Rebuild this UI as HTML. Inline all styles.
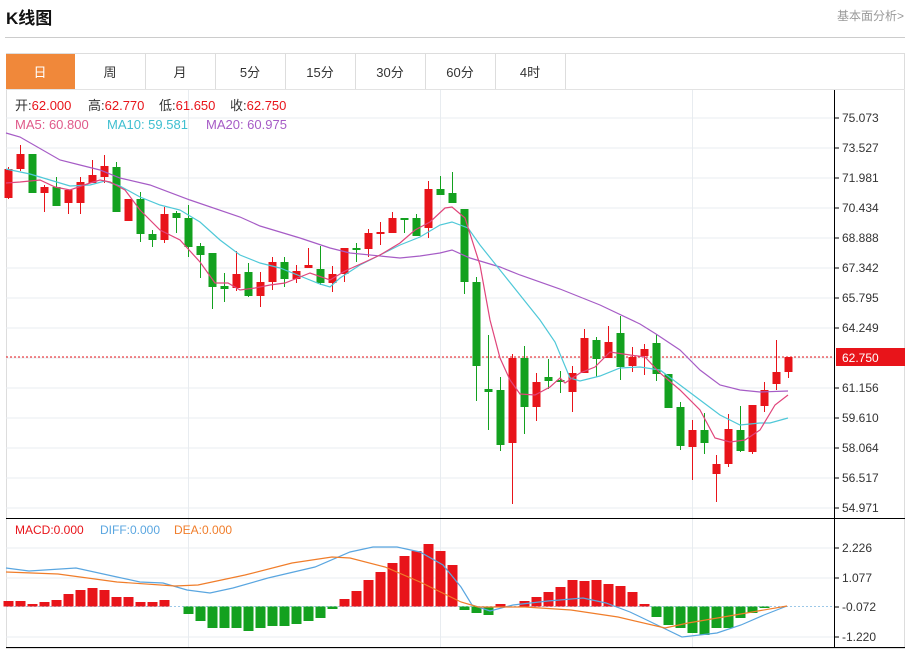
<!DOCTYPE html>
<html><head><meta charset="utf-8"><style>
html,body{margin:0;padding:0;background:#fff;width:911px;height:649px;overflow:hidden;font-family:"Liberation Sans","Noto Sans CJK SC",sans-serif;}
svg{display:block}
</style></head><body>
<svg width="911" height="649" xmlns="http://www.w3.org/2000/svg" font-family="Liberation Sans, Noto Sans CJK SC, sans-serif">
<text x="6" y="24" font-size="17" font-weight="bold" fill="#111">K线图</text>
<text x="904" y="20" font-size="12" fill="#999" text-anchor="end">基本面分析&gt;</text>
<line x1="5" y1="37.5" x2="905" y2="37.5" stroke="#ccc"/>
<rect x="6.5" y="53.5" width="898" height="595" fill="none" stroke="#ddd"/>
<line x1="6" y1="89.5" x2="905" y2="89.5" stroke="#e3e3e3"/>
<rect x="6" y="54" width="69" height="35" fill="#f0883a"/>
<g stroke="#ddd"><line x1="145.5" y1="54" x2="145.5" y2="89"/><line x1="215.5" y1="54" x2="215.5" y2="89"/><line x1="285.5" y1="54" x2="285.5" y2="89"/><line x1="355.5" y1="54" x2="355.5" y2="89"/><line x1="425.5" y1="54" x2="425.5" y2="89"/><line x1="495.5" y1="54" x2="495.5" y2="89"/><line x1="565.5" y1="54" x2="565.5" y2="89"/></g>
<g font-size="13" fill="#333" text-anchor="middle"><text x="40" y="77" fill="#fff">日</text><text x="110" y="77">周</text><text x="180" y="77">月</text><text x="250" y="77">5分</text><text x="320" y="77">15分</text><text x="390" y="77">30分</text><text x="460" y="77">60分</text><text x="530" y="77">4时</text></g>
<g stroke="#e8ecf0"><line x1="6" x2="834" y1="118" y2="118"/><line x1="6" x2="834" y1="148" y2="148"/><line x1="6" x2="834" y1="178" y2="178"/><line x1="6" x2="834" y1="208" y2="208"/><line x1="6" x2="834" y1="238" y2="238"/><line x1="6" x2="834" y1="268" y2="268"/><line x1="6" x2="834" y1="298" y2="298"/><line x1="6" x2="834" y1="328" y2="328"/><line x1="6" x2="834" y1="358" y2="358"/><line x1="6" x2="834" y1="388" y2="388"/><line x1="6" x2="834" y1="418" y2="418"/><line x1="6" x2="834" y1="448" y2="448"/><line x1="6" x2="834" y1="478" y2="478"/><line x1="6" x2="834" y1="508" y2="508"/>
<line x1="188.5" x2="188.5" y1="90" y2="648"/><line x1="440.5" x2="440.5" y1="90" y2="648"/><line x1="692.5" x2="692.5" y1="90" y2="648"/>
<line x1="6" x2="834" y1="548" y2="548"/><line x1="6" x2="834" y1="578" y2="578"/><line x1="6" x2="834" y1="637" y2="637"/></g>
<g font-size="13">
<text x="15" y="110" fill="#333">开:<tspan fill="#e8141a">62.000</tspan></text>
<text x="88" y="110" fill="#333">高:<tspan fill="#e8141a">62.770</tspan></text>
<text x="159" y="110" fill="#333">低:<tspan fill="#e8141a">61.650</tspan></text>
<text x="230" y="110" fill="#333">收:<tspan fill="#e8141a">62.750</tspan></text>
<text x="15" y="129" fill="#e05a8a">MA5: 60.800</text>
<text x="107" y="129" fill="#3fbfd0">MA10: 59.581</text>
<text x="206" y="129" fill="#a65cc6">MA20: 60.975</text>
</g>
<line x1="834.5" y1="90" x2="834.5" y2="648" stroke="#000"/>
<line x1="6" y1="518.5" x2="905" y2="518.5" stroke="#000"/>
<line x1="6" y1="647.5" x2="905" y2="647.5" stroke="#000"/>
<g stroke="#000"><line x1="834" x2="839" y1="118" y2="118"/><line x1="834" x2="839" y1="148" y2="148"/><line x1="834" x2="839" y1="178" y2="178"/><line x1="834" x2="839" y1="208" y2="208"/><line x1="834" x2="839" y1="238" y2="238"/><line x1="834" x2="839" y1="268" y2="268"/><line x1="834" x2="839" y1="298" y2="298"/><line x1="834" x2="839" y1="328" y2="328"/><line x1="834" x2="839" y1="388" y2="388"/><line x1="834" x2="839" y1="418" y2="418"/><line x1="834" x2="839" y1="448" y2="448"/><line x1="834" x2="839" y1="478" y2="478"/><line x1="834" x2="839" y1="508" y2="508"/><line x1="834" x2="839" y1="548" y2="548"/><line x1="834" x2="839" y1="578" y2="578"/><line x1="834" x2="839" y1="607" y2="607"/><line x1="834" x2="839" y1="637" y2="637"/></g>
<g font-size="12" fill="#333"><text x="842" y="122">75.073</text><text x="842" y="152">73.527</text><text x="842" y="182">71.981</text><text x="842" y="212">70.434</text><text x="842" y="242">68.888</text><text x="842" y="272">67.342</text><text x="842" y="302">65.795</text><text x="842" y="332">64.249</text><text x="842" y="392">61.156</text><text x="842" y="422">59.610</text><text x="842" y="452">58.064</text><text x="842" y="482">56.517</text><text x="842" y="512">54.971</text>
<text x="842" y="552">2.226</text><text x="842" y="582">1.077</text><text x="842" y="611">-0.072</text><text x="842" y="641">-1.220</text></g>
<line x1="6" y1="357" x2="834" y2="357" stroke="#e8141a" stroke-dasharray="2,2"/>
<rect x="836" y="348" width="69" height="18" fill="#e8141a"/>
<text x="842" y="362" font-size="12" fill="#fff">62.750</text>
<!-- red candles -->
<path fill="none" stroke="#e8141a" d="M8.5 167V199M20.5 145V171M44.5 185V212M68.5 190V214M80.5 177V214M92.5 160V183M104.5 155V183M128.5 199V221M164.5 207V243M236.5 251V291M260.5 272V307M272.5 257V290M296.5 265V283M308.5 248V268M332.5 266V292M344.5 248V282M368.5 229V257M380.5 222V245M392.5 212V233M428.5 181V238M512.5 354V504M536.5 373V421M572.5 366V412M584.5 329V373M608.5 326V358M632.5 347V372M644.5 344V375M692.5 420V480M716.5 455V502M728.5 414V467M752.5 405V454M764.5 382V412M776.5 340V390M788.5 357V378"/>
<g fill="#e8141a">
<rect x="4.5" y="169" width="8" height="29"/><rect x="16.5" y="154" width="8" height="15"/><rect x="40.5" y="187" width="8" height="6"/><rect x="64.5" y="190" width="8" height="13"/><rect x="76.5" y="182" width="8" height="21"/><rect x="88.5" y="175" width="8" height="8"/><rect x="100.5" y="166" width="8" height="11"/><rect x="124.5" y="199" width="8" height="22"/><rect x="160.5" y="214" width="8" height="26"/><rect x="232.5" y="274" width="8" height="14"/><rect x="256.5" y="282" width="8" height="14"/><rect x="268.5" y="262" width="8" height="20"/><rect x="292.5" y="271" width="8" height="8"/><rect x="304.5" y="265" width="8" height="3"/><rect x="328.5" y="274" width="8" height="9"/><rect x="340.5" y="248" width="8" height="26"/><rect x="364.5" y="233" width="8" height="16"/><rect x="376.5" y="232" width="8" height="2"/><rect x="388.5" y="218" width="8" height="15"/><rect x="424.5" y="189" width="8" height="39"/><rect x="508.5" y="358" width="8" height="85"/><rect x="532.5" y="382" width="8" height="25"/><rect x="568.5" y="373" width="8" height="19"/><rect x="580.5" y="338" width="8" height="35"/><rect x="604.5" y="342" width="8" height="16"/><rect x="628.5" y="357" width="8" height="9"/><rect x="640.5" y="349" width="8" height="7"/><rect x="688.5" y="430" width="8" height="17"/><rect x="712.5" y="464" width="8" height="10"/><rect x="724.5" y="429" width="8" height="35"/><rect x="748.5" y="405" width="8" height="47"/><rect x="760.5" y="390" width="8" height="16"/><rect x="772.5" y="372" width="8" height="12"/><rect x="784.5" y="357" width="8" height="15"/>
</g>
<!-- green candles -->
<path fill="none" stroke="#13a11f" d="M32.5 154V193M56.5 177V206M116.5 162V212M140.5 192V242M152.5 230V247M176.5 211V233M188.5 205V257M200.5 243V278M212.5 253V309M224.5 273V302M248.5 263V297M284.5 257V287M320.5 246V285M356.5 243V262M404.5 218V233M416.5 214V236M440.5 176V195M452.5 172V203M464.5 209V294M476.5 277V401M488.5 335V430M500.5 377V451M524.5 346V434M548.5 359V389M560.5 371V393M596.5 337V377M620.5 316V380M656.5 334V381M680.5 402V450M704.5 413V454M740.5 406V452"/>
<g fill="#13a11f">
<rect x="28.5" y="154" width="8" height="39"/><rect x="52.5" y="187" width="8" height="19"/><rect x="112.5" y="167" width="8" height="45"/><rect x="136.5" y="199" width="8" height="35"/><rect x="148.5" y="234" width="8" height="6"/><rect x="172.5" y="213" width="8" height="5"/><rect x="184.5" y="218" width="8" height="29"/><rect x="196.5" y="246" width="8" height="9"/><rect x="208.5" y="253" width="8" height="34"/><rect x="220.5" y="286" width="8" height="3"/><rect x="244.5" y="272" width="8" height="24"/><rect x="280.5" y="262" width="8" height="17"/><rect x="316.5" y="269" width="8" height="14"/><rect x="352.5" y="248" width="8" height="2"/><rect x="400.5" y="218" width="8" height="2"/><rect x="412.5" y="218" width="8" height="18"/><rect x="436.5" y="189" width="8" height="6"/><rect x="448.5" y="193" width="8" height="10"/><rect x="460.5" y="209" width="8" height="73"/><rect x="472.5" y="282" width="8" height="84"/><rect x="484.5" y="389" width="8" height="3"/><rect x="496.5" y="390" width="8" height="55"/><rect x="520.5" y="358" width="8" height="49"/><rect x="544.5" y="377" width="8" height="4"/><rect x="556.5" y="380" width="8" height="2"/><rect x="592.5" y="340" width="8" height="19"/><rect x="616.5" y="333" width="8" height="34"/><rect x="652.5" y="343" width="8" height="31"/><rect x="664.5" y="374" width="8" height="34"/><rect x="676.5" y="407" width="8" height="39"/><rect x="700.5" y="430" width="8" height="13"/><rect x="736.5" y="430" width="8" height="21"/>
</g>
<g fill="none" stroke-width="1.2">
<polyline stroke="#a65cc6" points="6,133 20,137 60,160 80,165 100,170 120,178 150,185 190,200 240,217 260,226 300,238 330,248 350,253 400,258 420,256 440,253 452,250 470,258 500,267 520,275 560,289 600,305 640,324 656,334 680,350 700,370 720,385 740,390 760,392 788,391"/>
<polyline stroke="#4fc8d8" points="6,169 30,174 50,180 70,186 90,185 105,181 120,186 140,197 160,205 180,210 200,222 220,240 240,255 260,263 280,268 300,276 320,284 330,287 340,278 360,265 380,255 400,245 420,237 440,225 452,222 468,228 480,245 500,270 520,295 540,320 555,342 570,378 580,381 600,376 620,368 640,367 660,370 680,385 700,400 720,415 740,425 760,423 770,423 788,418"/>
<polyline stroke="#e0457b" points="6,183 20,182 40,180 55,187 70,190 90,183 100,180 110,182 125,190 140,210 160,230 180,240 200,262 215,283 228,283 240,290 255,288 270,285 285,283 300,277 310,273 330,280 345,271 365,262 380,255 400,243 415,230 430,222 445,208 452,207 465,218 480,265 490,320 500,358 510,380 520,394 535,395 550,387 560,378 565,383 580,373 595,367 610,352 630,355 645,357 660,373 680,390 700,410 715,438 730,442 745,440 760,430 775,405 788,395"/>
</g>
<g font-size="12">
<text x="15" y="534" fill="#e8141a">MACD:0.000</text>
<text x="100" y="534" fill="#5aa6e0">DIFF:0.000</text>
<text x="174" y="534" fill="#f07d2a">DEA:0.000</text>
</g>
<line x1="6" y1="606.5" x2="834" y2="606.5" stroke="#9cc8e8" stroke-dasharray="2,2"/>
<g fill="#e8141a">
<rect x="3.5" y="601" width="10" height="5.5"/><rect x="15.5" y="601" width="10" height="5.5"/><rect x="27.5" y="604" width="10" height="2.5"/><rect x="39.5" y="602" width="10" height="4.5"/><rect x="51.5" y="600" width="10" height="6.5"/><rect x="63.5" y="594" width="10" height="12.5"/><rect x="75.5" y="590" width="10" height="16.5"/><rect x="87.5" y="588" width="10" height="18.5"/><rect x="99.5" y="590" width="10" height="16.5"/><rect x="111.5" y="597" width="10" height="9.5"/><rect x="123.5" y="597" width="10" height="9.5"/><rect x="135.5" y="602" width="10" height="4.5"/><rect x="147.5" y="602" width="10" height="4.5"/><rect x="159.5" y="600" width="10" height="6.5"/>
<rect x="339.5" y="599" width="10" height="7.5"/><rect x="351.5" y="591" width="10" height="15.5"/><rect x="363.5" y="580" width="10" height="26.5"/><rect x="375.5" y="572" width="10" height="34.5"/><rect x="387.5" y="563" width="10" height="43.5"/><rect x="399.5" y="556" width="10" height="50.5"/><rect x="411.5" y="551" width="10" height="55.5"/><rect x="423.5" y="544" width="10" height="62.5"/><rect x="435.5" y="551" width="10" height="55.5"/><rect x="447.5" y="565" width="10" height="41.5"/>
<rect x="495.5" y="604" width="10" height="2.5"/><rect x="519.5" y="601" width="10" height="5.5"/><rect x="531.5" y="597" width="10" height="9.5"/><rect x="543.5" y="592" width="10" height="14.5"/><rect x="555.5" y="587" width="10" height="19.5"/><rect x="567.5" y="580" width="10" height="26.5"/><rect x="579.5" y="581" width="10" height="25.5"/><rect x="591.5" y="580" width="10" height="26.5"/><rect x="603.5" y="584" width="10" height="22.5"/><rect x="615.5" y="586" width="10" height="20.5"/><rect x="627.5" y="592" width="10" height="14.5"/><rect x="639.5" y="604" width="10" height="2.5"/>
</g>
<g fill="#13a11f">
<rect x="183.5" y="606.5" width="10" height="7.5"/><rect x="195.5" y="606.5" width="10" height="14.5"/><rect x="207.5" y="606.5" width="10" height="21.5"/><rect x="219.5" y="606.5" width="10" height="21.5"/><rect x="231.5" y="606.5" width="10" height="21.5"/><rect x="243.5" y="606.5" width="10" height="24.5"/><rect x="255.5" y="606.5" width="10" height="21.5"/><rect x="267.5" y="606.5" width="10" height="19.5"/><rect x="279.5" y="606.5" width="10" height="19.5"/><rect x="291.5" y="606.5" width="10" height="17.5"/><rect x="303.5" y="606.5" width="10" height="14.5"/><rect x="315.5" y="606.5" width="10" height="11.5"/><rect x="327.5" y="606.5" width="10" height="2.5"/>
<rect x="459.5" y="606.5" width="10" height="3.5"/><rect x="471.5" y="606.5" width="10" height="6.5"/><rect x="483.5" y="606.5" width="10" height="8.5"/>
<rect x="651.5" y="606.5" width="10" height="10.5"/><rect x="663.5" y="606.5" width="10" height="18.5"/><rect x="675.5" y="606.5" width="10" height="21.5"/><rect x="687.5" y="606.5" width="10" height="26.5"/><rect x="699.5" y="606.5" width="10" height="28.5"/><rect x="711.5" y="606.5" width="10" height="21.5"/><rect x="723.5" y="606.5" width="10" height="21.5"/><rect x="735.5" y="606.5" width="10" height="11.5"/><rect x="747.5" y="606.5" width="10" height="6.5"/><rect x="759.5" y="606.5" width="10" height="1.5"/>
</g>
<g fill="none" stroke-width="1.2">
<polyline stroke="#5aa6e0" points="6,568 29,571 76,568 117,577 140,582 163,583 187,590 210,593 233,588 268,578 315,567 350,552 373,547 397,547 420,552 443,565 461,587 472,605 490,611 513,605 548,601 583,598 606,603 630,612 653,623 682,637 717,633 741,625 764,615 787,606"/>
<polyline stroke="#f07d2a" points="6,572 58,574 117,582 175,586 198,585 245,575 292,563 332,557 350,558 385,567 420,582 461,602 478,607 525,607 571,610 618,617 665,628 688,623 735,615 787,606"/>
</g>
</svg>
</body></html>
